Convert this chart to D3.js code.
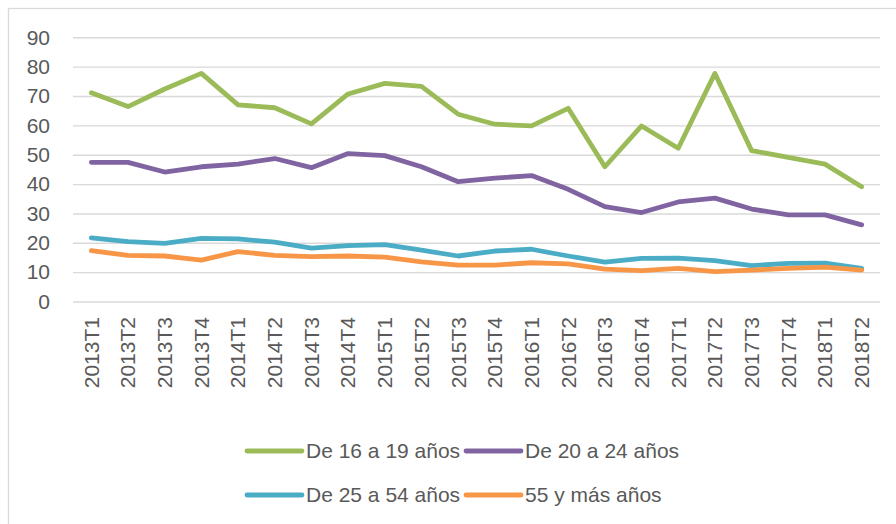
<!DOCTYPE html>
<html>
<head>
<meta charset="utf-8">
<script src="https://cdn.jsdelivr.net/npm/d3@7"></script>
<style>
  body { margin: 0; background: #fff; }
  svg { display: block; font-family: "Liberation Sans", Arial, sans-serif; }
</style>
</head>
<body>
<div id="chart"></div>
<script>
// Datos
const periodos = ["2013T1", "2013T2", "2013T3", "2013T4", "2014T1", "2014T2", "2014T3", "2014T4",
  "2015T1", "2015T2", "2015T3", "2015T4", "2016T1", "2016T2", "2016T3", "2016T4",
  "2017T1", "2017T2", "2017T3", "2017T4", "2018T1", "2018T2"];
const de16a19 = [71.1, 66.4, 72.4, 77.7, 67.0, 66.0, 60.5, 70.7, 74.3, 73.3, 63.8, 60.4,
  59.8, 65.8, 45.9, 59.8, 52.2, 77.7, 51.4, 49.1, 46.8, 39.1];
const de20a24 = [47.4, 47.4, 44.1, 45.9, 46.8, 48.7, 45.6, 50.4, 49.7, 45.9, 40.8, 42.0,
  42.9, 38.2, 32.3, 30.3, 33.9, 35.2, 31.5, 29.5, 29.5, 26.1];
const de25a54 = [21.7, 20.4, 19.8, 21.5, 21.3, 20.2, 18.2, 19.0, 19.4, 17.5, 15.5, 17.2,
  17.8, 15.5, 13.4, 14.7, 14.8, 13.9, 12.2, 13.0, 13.1, 11.3];
const de55ymas = [17.3, 15.7, 15.5, 14.1, 17.0, 15.7, 15.3, 15.5, 15.1, 13.5, 12.4, 12.4,
  13.2, 12.8, 11.0, 10.5, 11.3, 10.2, 10.7, 11.3, 11.7, 10.7];
const nombresSeries = ["De 16 a 19 años", "De 20 a 24 años", "De 25 a 54 años", "55 y más años"];
const coloresSeries = ["#9bbb59", "#8064a2", "#4bacc6", "#f79646"];
const ticksY = [0, 10, 20, 30, 40, 50, 60, 70, 80, 90];

const series = [de16a19, de20a24, de25a54, de55ymas].map((valores, i) => ({
  nombre: nombresSeries[i],
  color: coloresSeries[i],
  valores: valores
}));

// Dimensiones
const width = 896;
const height = 524;
const plotLeft = 73;
const plotRight = 880;
const plotTop = 37.3;
const plotBottom = 301.5;
const textColor = "#595959";
const gridColor = "#d9d9d9";

const svg = d3.select("#chart").append("svg")
  .attr("width", width)
  .attr("height", height);

// Borde del gráfico
svg.append("rect")
  .attr("x", 8.5)
  .attr("y", 8.5)
  .attr("width", 900)
  .attr("height", 540)
  .attr("fill", "none")
  .attr("stroke", gridColor)
  .attr("stroke-width", 1.3);

const x = d3.scaleBand()
  .domain(periodos)
  .range([plotLeft, plotRight]);

const y = d3.scaleLinear()
  .domain([0, 90])
  .range([plotBottom, plotTop]);

// Líneas de cuadrícula y etiquetas del eje Y
svg.append("g")
  .attr("transform", `translate(${plotLeft},0)`)
  .call(d3.axisLeft(y).tickValues(ticksY).tickSize(-(plotRight - plotLeft)).tickPadding(23))
  .call(g => g.select(".domain").remove())
  .call(g => g.selectAll(".tick line").attr("stroke", gridColor).attr("stroke-width", 1.4))
  .call(g => g.selectAll(".tick text")
    .attr("fill", textColor)
    .style("font-size", "21px")
    .style("font-family", "'Liberation Sans', Arial, sans-serif"));

// Etiquetas del eje X
svg.append("g")
  .selectAll("text")
  .data(periodos)
  .join("text")
  .attr("transform", d => `translate(${x(d) + x.bandwidth() / 2},317) rotate(-90)`)
  .attr("text-anchor", "end")
  .attr("dy", "0.35em")
  .attr("fill", textColor)
  .style("font-size", "21px")
  .text(d => d);

// Líneas
const line = d3.line()
  .x((d, i) => x(periodos[i]) + x.bandwidth() / 2)
  .y(d => y(d));

svg.append("g")
  .selectAll("path")
  .data(series)
  .join("path")
  .attr("d", d => line(d.valores))
  .attr("fill", "none")
  .attr("stroke", d => d.color)
  .attr("stroke-width", 4.8)
  .attr("stroke-linejoin", "round")
  .attr("stroke-linecap", "round");

// Leyenda
const legendCols = [247, 466];
const legendRows = [451, 495];
const legend = svg.append("g")
  .selectAll("g")
  .data(series)
  .join("g")
  .attr("transform", (d, i) => `translate(${legendCols[i % 2]},${legendRows[Math.floor(i / 2)]})`);

legend.append("line")
  .attr("x1", 0)
  .attr("x2", 55)
  .attr("stroke", d => d.color)
  .attr("stroke-width", 4.8)
  .attr("stroke-linecap", "round");

legend.append("text")
  .attr("x", 59)
  .attr("dy", "0.35em")
  .attr("fill", textColor)
  .style("font-size", "21px")
  .text(d => d.nombre);
</script>
</body>
</html>
